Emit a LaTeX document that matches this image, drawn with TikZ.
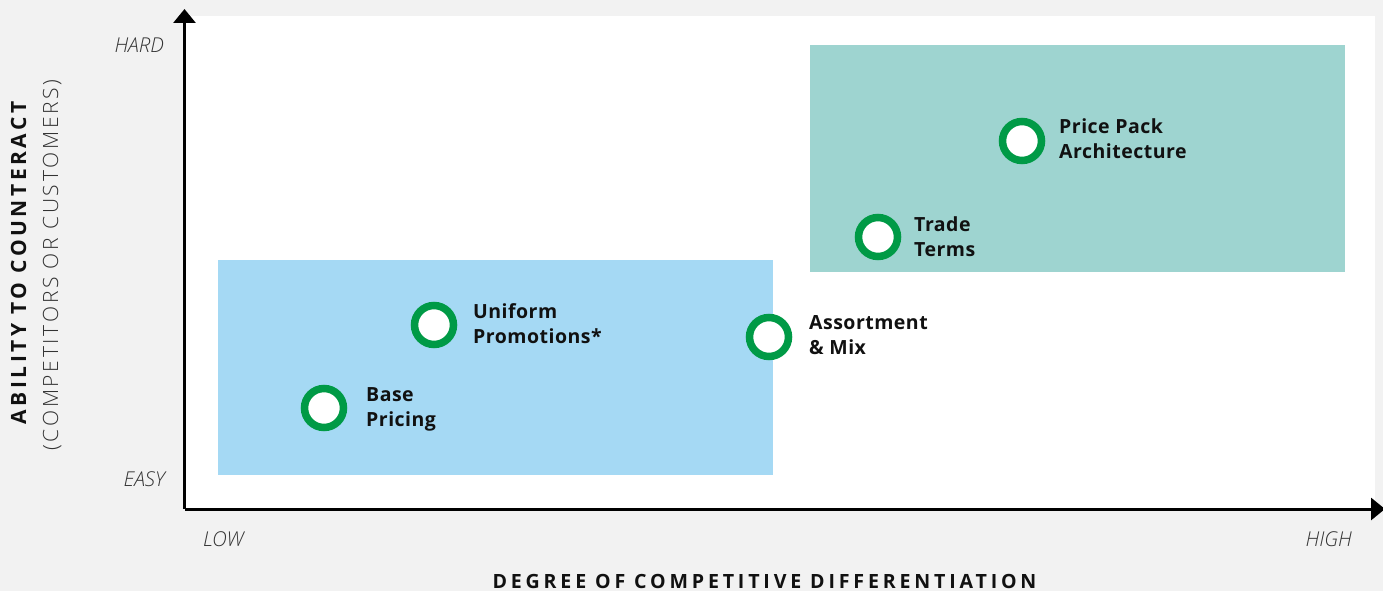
\documentclass[tikz,border=0pt]{standalone}
\usepackage{fontspec}
\usetikzlibrary{arrows.meta}
\setmainfont{Open Sans}
% weights used for the labels, with fallbacks
\IfFontExistsTF{Open Sans Light}{\newfontfamily\lightfont{Open Sans Light}[LetterSpace=13]}{%
  \newfontfamily\lightfont{Open Sans}[LetterSpace=13]}
\IfFontExistsTF{Open Sans Light Italic}{\newfontfamily\lightit{Open Sans Light Italic}}{%
  \newcommand\lightit{\itshape}}
\newfontfamily\titlefont{Open Sans}[LetterSpace=19.5]
\newfontfamily\sidetitlefont{Open Sans}[LetterSpace=17]
\newfontfamily\itemfont{Open Sans}[LetterSpace=2.5]

\definecolor{pagebg}{HTML}{F2F2F2}
\definecolor{lowzone}{HTML}{A5D9F4}
\definecolor{highzone}{HTML}{9ED4D0}
\definecolor{ringgreen}{HTML}{009A46}
\definecolor{ink}{HTML}{111111}
\definecolor{scaleink}{HTML}{333333}

\begin{document}
\begin{tikzpicture}[x=1pt,y=-1pt,
  ring/.style={circle, draw=ringgreen, line width=7.5pt, fill=white,
    minimum size=39pt, inner sep=0pt},
  itemlabel/.style={anchor=west, inner sep=0pt, align=left, text=ink,
    font=\itemfont\bfseries\fontsize{19.5}{25.5}\selectfont},
  scalelabel/.style={inner sep=0pt, text=scaleink,
    font=\lightit\fontsize{20.5}{23}\selectfont},
  axis/.style={line width=3pt, draw=black,
    -{Triangle[width=22pt,length=14pt]}},
]
% canvas and plotting area
\fill[pagebg] (0,0) rectangle (1383,591);
\useasboundingbox (0,0) rectangle (1383,591);
\fill[white] (184,16) rectangle (1375,509);

% zones
\fill[lowzone] (218,260) rectangle (773,475);
\fill[highzone] (810,45) rectangle (1345,272);

% axes
\coordinate (origin) at (184.5,509);
\coordinate (ytip) at (184.5,9);
\coordinate (xtip) at (1385,509);
\draw[axis] (origin) -- (ytip);
\draw[axis] (origin) -- (xtip);

% scale labels
\node[scalelabel, anchor=base east] (hard) at (164,53) {HARD};
\node[scalelabel, anchor=base east] (easy) at (165,486) {EASY};
\node[scalelabel, anchor=base west] (low) at (203,546) {LOW};
\node[scalelabel, anchor=base east] (high) at (1352,546) {HIGH};

% axis titles
\node[inner sep=0pt, anchor=base, text=ink,
  font=\titlefont\bfseries\fontsize{19.6}{22}\selectfont] (xtitle) at (764.5,588)
  {DEGREE OF COMPETITIVE DIFFERENTIATION};
\node[inner sep=0pt, anchor=base, rotate=90, text=ink,
  font=\sidetitlefont\bfseries\fontsize{21}{24}\selectfont] (ytitle) at (26,263)
  {ABILITY TO COUNTERACT};
\node[inner sep=0pt, anchor=base, rotate=90, text=scaleink,
  font=\lightfont\fontsize{21}{24}\selectfont] (ysub) at (58,265)
  {(COMPETITORS OR CUSTOMERS)};

% levers
\node[ring] (base) at (324,408) {};
\node[ring] (uniform) at (434,325) {};
\node[ring] (assort) at (769,337) {};
\node[ring] (trade) at (878,237) {};
\node[ring] (ppa) at (1022,141) {};

\node[itemlabel] (baseT) at ([xshift=42pt,yshift=-1pt]base.center) {\strut Base\\\strut Pricing};
\node[itemlabel] (uniformT) at ([xshift=39pt,yshift=-1pt]uniform.center) {\strut Uniform\\\strut Promotions*};
\node[itemlabel] (assortT) at ([xshift=40pt]assort.center) {\strut Assortment\\\strut \& Mix};
\node[itemlabel] (tradeT) at ([xshift=36pt,yshift=-2pt]trade.center) {\strut Trade\\\strut Terms};
\node[itemlabel] (ppaT) at ([xshift=37pt]ppa.center) {\strut Price Pack\\\strut Architecture};
\end{tikzpicture}
\end{document}
